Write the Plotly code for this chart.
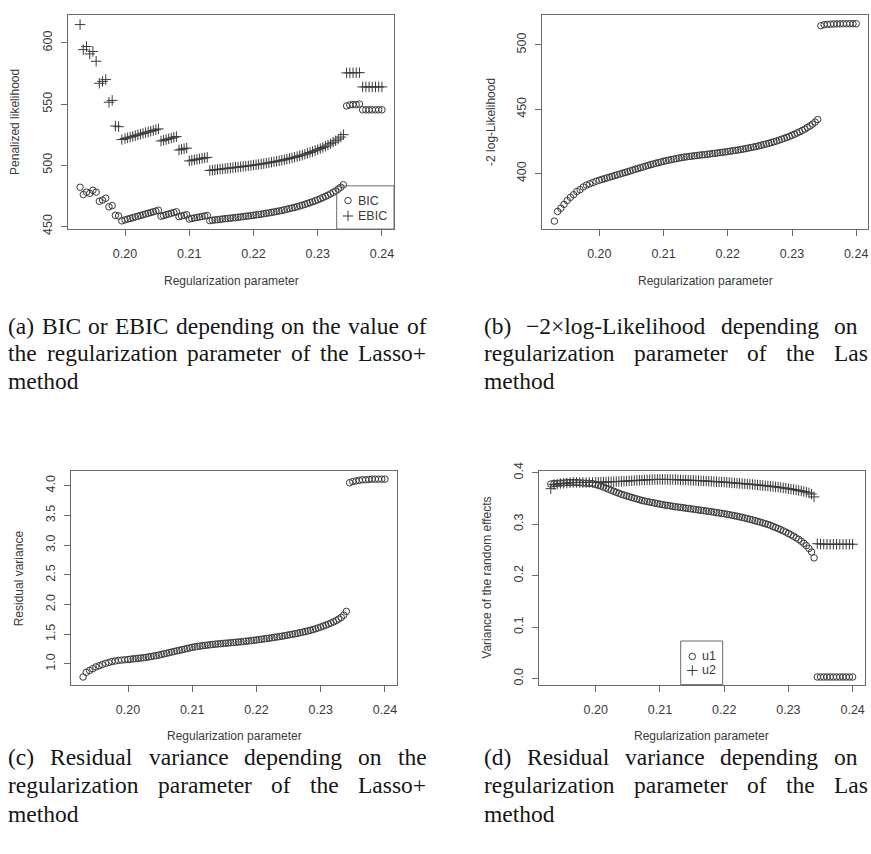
import plotly.graph_objects as go

W, H = 871, 854

# ---------------- data ----------------
reg_param = [
    0.1930, 0.1935, 0.1940, 0.1945, 0.1950, 0.1955, 0.1960, 0.1965, 0.1970, 0.1975,
    0.1980, 0.1985, 0.1990, 0.1995,
    0.2000, 0.2004, 0.2008, 0.2012, 0.2016, 0.2020, 0.2024, 0.2028, 0.2032, 0.2036,
    0.2040, 0.2044, 0.2048, 0.2052, 0.2056, 0.2060, 0.2064, 0.2068, 0.2072, 0.2076,
    0.2080, 0.2084, 0.2088, 0.2092, 0.2096, 0.2100, 0.2104, 0.2108, 0.2112, 0.2116,
    0.2120, 0.2124, 0.2128, 0.2132, 0.2136, 0.2140, 0.2144, 0.2148, 0.2152, 0.2156,
    0.2160, 0.2164, 0.2168, 0.2172, 0.2176, 0.2180, 0.2184, 0.2188, 0.2192, 0.2196,
    0.2200, 0.2204, 0.2208, 0.2212, 0.2216, 0.2220, 0.2224, 0.2228, 0.2232, 0.2236,
    0.2240, 0.2244, 0.2248, 0.2252, 0.2256, 0.2260, 0.2264, 0.2268, 0.2272, 0.2276,
    0.2280, 0.2284, 0.2288, 0.2292, 0.2296, 0.2300, 0.2304, 0.2308, 0.2312, 0.2316,
    0.2320, 0.2324, 0.2328, 0.2332, 0.2336, 0.2340,
    0.2345, 0.2350, 0.2355, 0.2360, 0.2365, 0.2370, 0.2375, 0.2380, 0.2385, 0.2390,
    0.2395, 0.2400,
]

bic = [
    482.0, 476.0, 478.0, 477.0, 479.5, 478.0, 470.5, 471.5, 473.0, 466.0,
    467.0, 459.0, 458.5, 454.5,
    455.3, 455.9, 456.5, 457.1, 457.7, 458.3, 458.9, 459.5, 460.1, 460.7,
    461.3, 461.9, 462.5, 463.2, 458.3, 458.9, 459.5, 460.1, 460.7, 461.3,
    461.9, 457.9, 458.5, 459.0, 459.5, 456.0, 456.5, 456.9, 457.3, 457.7,
    458.1, 458.5, 458.9, 454.7, 455.0, 455.3, 455.5, 455.8, 456.0, 456.3,
    456.5, 456.7, 457.0, 457.2, 457.5, 457.7, 458.0, 458.3, 458.5, 458.8,
    459.1, 459.4, 459.7, 460.0, 460.3, 460.7, 461.0, 461.4, 461.8, 462.2,
    462.6, 463.0, 463.5, 464.0, 464.5, 465.0, 465.5, 466.1, 466.7, 467.3,
    468.0, 468.7, 469.4, 470.1, 470.9, 471.7, 472.6, 473.5, 474.5, 475.5,
    476.6, 477.8, 479.0, 480.4, 482.0, 484.0,
    548.5, 549.3, 549.5, 549.5, 550.0, 545.3, 545.3, 545.3, 545.3, 545.3,
    545.3, 545.3,
]

ebic = [
    615.0, 594.5, 597.0, 591.0, 593.0, 585.0, 567.0, 568.5, 570.0, 551.5,
    553.0, 532.0, 531.5, 521.0,
    521.8, 522.4, 523.0, 523.6, 524.2, 524.8, 525.4, 526.0, 526.6, 527.2,
    527.8, 528.4, 529.0, 529.7, 519.8, 520.4, 521.0, 521.6, 522.2, 522.8,
    523.4, 512.4, 513.0, 513.5, 514.0, 503.5, 504.0, 504.4, 504.8, 505.2,
    505.6, 506.0, 506.4, 495.7, 496.0, 496.3, 496.5, 496.8, 497.0, 497.3,
    497.5, 497.7, 498.0, 498.2, 498.5, 498.7, 499.0, 499.3, 499.5, 499.8,
    500.1, 500.4, 500.7, 501.0, 501.3, 501.7, 502.0, 502.4, 502.8, 503.2,
    503.6, 504.0, 504.5, 505.0, 505.5, 506.0, 506.5, 507.1, 507.7, 508.3,
    509.0, 509.7, 510.4, 511.1, 511.9, 512.7, 513.6, 514.5, 515.5, 516.5,
    517.6, 518.8, 520.0, 521.4, 523.0, 525.0,
    575.5, 575.5, 575.6, 575.6, 575.7, 564.0, 564.0, 564.0, 564.0, 564.0,
    564.0, 564.0,
]

neg2loglik = [
    363.0, 370.5, 373.0, 376.0, 379.0, 381.5, 383.5, 386.0, 387.5, 389.5,
    391.0, 392.0, 393.0, 394.0,
    394.8, 395.4, 396.0, 396.6, 397.2, 397.8, 398.4, 399.0, 399.6, 400.2,
    400.8, 401.4, 402.0, 402.7, 403.3, 403.9, 404.5, 405.1, 405.7, 406.3,
    406.9, 407.4, 408.0, 408.5, 409.0, 409.5, 410.0, 410.4, 410.8, 411.2,
    411.6, 412.0, 412.4, 412.7, 413.0, 413.3, 413.5, 413.8, 414.0, 414.3,
    414.5, 414.7, 415.0, 415.2, 415.5, 415.7, 416.0, 416.3, 416.5, 416.8,
    417.1, 417.4, 417.7, 418.0, 418.3, 418.7, 419.0, 419.4, 419.8, 420.2,
    420.6, 421.0, 421.5, 422.0, 422.5, 423.0, 423.5, 424.1, 424.7, 425.3,
    426.0, 426.7, 427.4, 428.1, 428.9, 429.7, 430.6, 431.5, 432.5, 433.5,
    434.6, 435.8, 437.0, 438.4, 440.0, 442.0,
    515.0, 515.8, 516.0, 516.2, 516.3, 516.4, 516.4, 516.5, 516.5, 516.5,
    516.5, 516.5,
]

resid_var = [
    0.780, 0.860, 0.890, 0.920, 0.950, 0.970, 0.990, 1.010, 1.025, 1.040,
    1.050, 1.060, 1.065, 1.070,
    1.075, 1.080, 1.085, 1.090, 1.095, 1.100, 1.105, 1.110, 1.118, 1.125,
    1.133, 1.141, 1.150, 1.160, 1.170, 1.180, 1.190, 1.200, 1.210, 1.220,
    1.230, 1.240, 1.250, 1.260, 1.270, 1.280, 1.287, 1.294, 1.300, 1.306,
    1.312, 1.318, 1.323, 1.328, 1.333, 1.337, 1.341, 1.345, 1.349, 1.353,
    1.357, 1.361, 1.365, 1.369, 1.373, 1.378, 1.383, 1.388, 1.393, 1.398,
    1.404, 1.410, 1.416, 1.422, 1.428, 1.434, 1.440, 1.447, 1.454, 1.461,
    1.468, 1.476, 1.484, 1.492, 1.500, 1.508, 1.517, 1.526, 1.535, 1.545,
    1.556, 1.567, 1.579, 1.592, 1.606, 1.621, 1.637, 1.653, 1.670, 1.688,
    1.708, 1.730, 1.755, 1.783, 1.822, 1.885,
    4.050, 4.070, 4.080, 4.090, 4.100, 4.100, 4.105, 4.110, 4.110, 4.110,
    4.110, 4.110,
]

var_u1 = [
    0.3780, 0.3790, 0.3790, 0.3800, 0.3800, 0.3810, 0.3810, 0.3810, 0.3810, 0.3805,
    0.3800, 0.3795, 0.3795, 0.3790,
    0.3770, 0.3755, 0.3740, 0.3720, 0.3700, 0.3680, 0.3660, 0.3640, 0.3620, 0.3600,
    0.3580, 0.3565, 0.3550, 0.3535, 0.3520, 0.3505, 0.3490, 0.3475, 0.3460, 0.3450,
    0.3440, 0.3430, 0.3420, 0.3410, 0.3400, 0.3390, 0.3380, 0.3372, 0.3364, 0.3356,
    0.3348, 0.3340, 0.3333, 0.3326, 0.3319, 0.3312, 0.3305, 0.3298, 0.3291, 0.3284,
    0.3277, 0.3270, 0.3263, 0.3256, 0.3249, 0.3242, 0.3234, 0.3226, 0.3218, 0.3210,
    0.3202, 0.3193, 0.3184, 0.3174, 0.3164, 0.3154, 0.3143, 0.3132, 0.3120, 0.3108,
    0.3095, 0.3082, 0.3068, 0.3054, 0.3040, 0.3025, 0.3010, 0.2994, 0.2978, 0.2955,
    0.2935, 0.2915, 0.2893, 0.2870, 0.2846, 0.2820, 0.2793, 0.2765, 0.2735, 0.2703,
    0.2668, 0.2628, 0.2583, 0.2528, 0.2460, 0.2345,
    0.0030, 0.0030, 0.0030, 0.0030, 0.0030, 0.0030, 0.0030, 0.0030, 0.0030, 0.0030,
    0.0030, 0.0030,
]

var_u2 = [
    0.3690, 0.3770, 0.3780, 0.3790, 0.3795, 0.3800, 0.3805, 0.3810, 0.3810, 0.3810,
    0.3810, 0.3810, 0.3810, 0.3810,
    0.3812, 0.3814, 0.3816, 0.3818, 0.3820, 0.3822, 0.3824, 0.3826, 0.3828, 0.3830,
    0.3832, 0.3835, 0.3838, 0.3841, 0.3844, 0.3847, 0.3850, 0.3853, 0.3856, 0.3859,
    0.3862, 0.3864, 0.3866, 0.3868, 0.3869, 0.3870, 0.3870, 0.3870, 0.3869, 0.3868,
    0.3867, 0.3865, 0.3863, 0.3861, 0.3859, 0.3857, 0.3855, 0.3853, 0.3851, 0.3849,
    0.3847, 0.3844, 0.3841, 0.3838, 0.3835, 0.3832, 0.3829, 0.3826, 0.3823, 0.3820,
    0.3817, 0.3813, 0.3809, 0.3805, 0.3801, 0.3797, 0.3793, 0.3789, 0.3785, 0.3781,
    0.3777, 0.3772, 0.3767, 0.3762, 0.3757, 0.3752, 0.3747, 0.3742, 0.3737, 0.3731,
    0.3725, 0.3719, 0.3712, 0.3705, 0.3698, 0.3690, 0.3682, 0.3674, 0.3665, 0.3655,
    0.3645, 0.3634, 0.3622, 0.3608, 0.3585, 0.3530,
    0.2620, 0.2615, 0.2610, 0.2610, 0.2610, 0.2610, 0.2610, 0.2610, 0.2610, 0.2610,
    0.2610, 0.2610,
]

for _s in (bic, ebic, neg2loglik, resid_var, var_u1, var_u2):
    assert len(_s) == len(reg_param), len(_s)

x_tickvals = [0.20, 0.21, 0.22, 0.23, 0.24]
x_ticktext = ["0.20", "0.21", "0.22", "0.23", "0.24"]
ticks_a = [450, 500, 550, 600]
ticks_b = [400, 450, 500]
ticks_c = [1.0, 1.5, 2.0, 2.5, 3.0, 3.5, 4.0]
ticks_c_text = ["1.0", "1.5", "2.0", "2.5", "3.0", "3.5", "4.0"]
ticks_d = [0.0, 0.1, 0.2, 0.3, 0.4]
ticks_d_text = ["0.0", "0.1", "0.2", "0.3", "0.4"]

# ---------------- styles ----------------
INK = "#3a3a3a"
LINE = "#6a6a6a"
SANS = "Liberation Sans, Arial, sans-serif"
SERIF = "Liberation Serif, Times New Roman, serif"
CAP_SIZE = 23.5
circle = dict(symbol="circle-open", size=6.5, color=INK, line=dict(width=1, color=INK))
cross = dict(symbol="cross-thin-open", size=7.5, color=INK, line=dict(width=1, color=INK))

# plot boxes in pixels: (left, top, right, bottom)
boxes = {
    "a": (68.0, 6.5, 394.0, 224.0),
    "b": (542.3, 6.5, 868.3, 224.0),
    "c": (71.0, 470.7, 397.0, 687.7),
    "d": (538.7, 470.7, 864.7, 687.7),
}
yranges = {"a": [447.8, 622.5], "b": [356.8, 523.0], "c": [0.652, 4.24], "d": [-0.0118, 0.4025]}
x_range = [0.19112, 0.24188]


def fx(p):
    return p / W


def fy(p):
    return 1 - p / H


def px_to_data(k, px, py):
    l, t, r, b = boxes[k]
    yr = yranges[k]
    xd = x_range[0] + (px - l) / (r - l) * (x_range[1] - x_range[0])
    yd = yr[1] - (py - t) / (b - t) * (yr[1] - yr[0])
    return xd, yd


fig = go.Figure()
fig.add_trace(go.Scatter(x=reg_param, y=bic, mode="markers", marker=circle, name="BIC",
                         xaxis="x", yaxis="y"))
fig.add_trace(go.Scatter(x=reg_param, y=ebic, mode="markers", marker=cross, name="EBIC",
                         xaxis="x", yaxis="y"))
fig.add_trace(go.Scatter(x=reg_param, y=neg2loglik, mode="markers", marker=circle, name="-2 log-Likelihood",
                         xaxis="x2", yaxis="y2"))
fig.add_trace(go.Scatter(x=reg_param, y=resid_var, mode="markers", marker=circle, name="Residual variance",
                         xaxis="x3", yaxis="y3"))
fig.add_trace(go.Scatter(x=reg_param, y=var_u1, mode="markers", marker=circle, name="u1",
                         xaxis="x4", yaxis="y4"))
fig.add_trace(go.Scatter(x=reg_param, y=var_u2, mode="markers", marker=cross, name="u2",
                         xaxis="x4", yaxis="y4"))

tickfont = dict(family=SANS, size=12.5, color=INK)
common = dict(showline=True, mirror=True, linecolor=LINE, linewidth=1, ticks="outside", ticklen=6,
              tickcolor=LINE, tickwidth=1, showgrid=False, zeroline=False, tickfont=tickfont)

layout = {}
axis_keys = {"a": ("x", "y"), "b": ("x2", "y2"), "c": ("x3", "y3"), "d": ("x4", "y4")}
for i, (k, ytv, ytt) in enumerate([("a", ticks_a, None), ("b", ticks_b, None),
                                   ("c", ticks_c, ticks_c_text), ("d", ticks_d, ticks_d_text)]):
    l, t, r, b = boxes[k]
    sfx = "" if i == 0 else str(i + 1)
    layout["xaxis" + sfx] = dict(domain=[fx(l), fx(r)], anchor="y" + sfx, range=x_range,
                                 tickvals=x_tickvals, ticktext=x_ticktext, ticklabelstandoff=7, **common)
    ya = dict(domain=[fy(b), fy(t)], anchor="x" + sfx, range=yranges[k], tickvals=ytv,
              tickangle=-90, ticklabelstandoff=4, **common)
    if ytt is not None:
        ya["ticktext"] = ytt
    layout["yaxis" + sfx] = ya
fig.update_layout(**layout)

annotations = []
shapes = []

# legends (boxed, R style), keys drawn inside the owning panel
legends = [
    ("a", (336.7, 180.0, 394.0, 224.0), 348.0, 357.0, [("BIC", circle, 195.0), ("EBIC", cross, 210.7)]),
    ("d", (680.7, 643.3, 722.7, 687.7), 692.3, 701.0, [("u1", circle, 659.0), ("u2", cross, 673.3)]),
]
for k, (l, t, r, b), sx, tx, items in legends:
    shapes.append(dict(type="rect", xref="paper", yref="paper", x0=fx(l), x1=fx(r), y0=fy(b), y1=fy(t),
                       line=dict(color=LINE, width=1), fillcolor="rgba(0,0,0,0)", layer="above"))
    xa, ya_ = axis_keys[k]
    for name, mk, yy in items:
        xd, yd = px_to_data(k, sx, yy)
        fig.add_trace(go.Scatter(x=[xd], y=[yd], mode="markers", marker=mk, hoverinfo="skip",
                                 xaxis=xa, yaxis=ya_))
        annotations.append(dict(text=name, x=fx(tx), y=fy(yy), xref="paper", yref="paper", showarrow=False,
                                xanchor="left", yanchor="middle", borderpad=0,
                                font=dict(family=SANS, size=12.5, color=INK)))

# axis titles
ytitles = {"a": "Penalized likelihood", "b": "-2 log-Likelihood", "c": "Residual variance",
           "d": "Variance of the random effects"}
ytitle_x = {"a": 15.7, "b": 491.7, "c": 19.3, "d": 486.7}
for k, (l, t, r, b) in boxes.items():
    annotations.append(dict(text="Regularization parameter", x=fx((l + r) / 2), y=fy(b + 52.7),
                            xref="paper", yref="paper", showarrow=False, xanchor="center", yanchor="middle",
                            font=dict(family=SANS, size=12, color=INK)))
    annotations.append(dict(text=ytitles[k], x=fx(ytitle_x[k]), y=fy((t + b) / 2), textangle=-90,
                            xref="paper", yref="paper", showarrow=False, xanchor="center", yanchor="middle",
                            font=dict(family=SANS, size=12, color=INK)))

# captions (justified like the LaTeX source; the page is cropped at the right edge)
TW = {' ': 250, '(': 333, ')': 333, '+': 564, '-': 333, '−': 564, '×': 564, '2': 500,
      'a': 444, 'b': 500, 'c': 444, 'd': 500, 'e': 444, 'f': 333, 'g': 500, 'h': 500, 'i': 278,
      'j': 278, 'k': 500, 'l': 278, 'm': 778, 'n': 500, 'o': 500, 'p': 500, 'q': 500, 'r': 333,
      's': 389, 't': 278, 'u': 500, 'v': 500, 'w': 722, 'x': 500, 'y': 500, 'z': 444,
      'B': 667, 'C': 667, 'E': 611, 'I': 333, 'L': 611, 'R': 667}


def wwidth(w):
    return sum(TW.get(ch, 500) for ch in w) * CAP_SIZE / 1000.0


COL_W = 418.0
captions = [
    (7.3, [330, 358, 386], ["(a) BIC or EBIC depending on the value of",
                           "the regularization parameter of the Lasso+", "method"]),
    (482.7, [330, 358, 386], ["(b) −2×log-Likelihood depending on the",
                             "regularization parameter of the Lasso+", "method"]),
    (7.3, [769, 798, 827], ["(c) Residual variance depending on the",
                           "regularization parameter of the Lasso+", "method"]),
    (482.7, [769, 798, 827], ["(d) Residual variance depending on the",
                             "regularization parameter of the Lasso+", "method"]),
]
EDGE = W - 1.0
for x0, bases, lines in captions:
    x1 = x0 + COL_W
    for li, (base, line) in enumerate(zip(bases, lines)):
        words = line.split(" ")
        last = li == len(lines) - 1
        pos = []
        cur = x0
        if last or len(words) == 1:
            for w in words:
                pos.append(cur)
                cur += wwidth(w) + wwidth(" ")
        else:
            total = sum(wwidth(w) for w in words)
            gap = (x1 - x0 - total) / (len(words) - 1)
            for w in words:
                pos.append(cur)
                cur += wwidth(w) + gap
        for w, px in zip(words, pos):
            if px >= EDGE - 2:
                continue  # beyond the cropped page edge
            shown = w
            while shown and px + wwidth(shown) > EDGE + 2:
                shown = shown[:-1]
            if not shown:
                continue
            annotations.append(dict(text=shown, x=fx(px), y=fy(base - 0.33 * CAP_SIZE), xref="paper",
                                    yref="paper", showarrow=False, xanchor="left", yanchor="middle",
                                    borderpad=0, font=dict(family=SERIF, size=CAP_SIZE, color="#161616")))

fig.update_layout(
    width=W, height=H, margin=dict(l=0, r=0, t=0, b=0),
    paper_bgcolor="white", plot_bgcolor="white",
    annotations=annotations, shapes=shapes, showlegend=False,
)

fig.write_html("out.html")
